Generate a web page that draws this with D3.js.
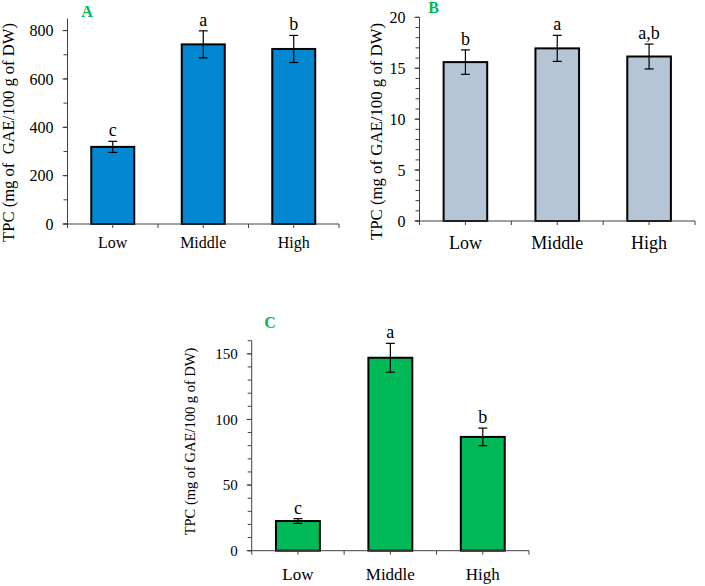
<!DOCTYPE html>
<html>
<head>
<meta charset="utf-8">
<script src="https://cdn.jsdelivr.net/npm/d3@7/dist/d3.min.js"></script>
<style>
  html, body { margin: 0; padding: 0; background: #fff; }
  svg text { font-family: "Liberation Serif", "Times New Roman", serif; fill: #000; }
</style>
</head>
<body>
<svg id="chart" width="705" height="586"></svg>
<script>
// ---- data ----
const categories = ["Low", "Middle", "High"];

const valuesA = [319, 743, 724];
const errorsA = [23, 56, 56];
const lettersA = ["c", "a", "b"];
const ticksA = [0, 200, 400, 600, 800];

const valuesB = [15.6, 16.95, 16.15];
const errorsB = [1.2, 1.28, 1.22];
const lettersB = ["b", "a", "a,b"];
const ticksB = [0, 5, 10, 15, 20];

const valuesC = [22.6, 147, 86.7];
const errorsC = [1.8, 11, 6.7];
const lettersC = ["c", "a", "b"];
const ticksC = [0, 50, 100, 150];

const titleA = "TPC (mg of  GAE/100 g of DW)";
const titleB = "TPC (mg of GAE/100 g of DW)";
const titleC = "TPC (mg of GAE/100 g of DW)";

// ---- panel configs (layout/style only) ----
const panels = [
  { label: "A", values: valuesA, errors: errorsA, letters: lettersA, ticks: ticksA,
    ymax: 850, minorStep: 100, title: titleA,
    x0: 67.5, x1: 339, y0: 224, y1: 18.5, fill: "#0287D0",
    tickFont: 16, catFont: 16, letterFont: 18, titleFont: 16.6, titleX: 14, titleY: 132.5, catY: 248,
    labelX: 87, labelY: 17 },
  { label: "B", values: valuesB, errors: errorsB, letters: lettersB, ticks: ticksB,
    ymax: 20, minorStep: 1, title: titleB,
    x0: 419.5, x1: 695, y0: 221, y1: 17.3, fill: "#B5C5D5",
    tickFont: 16, catFont: 18, letterFont: 18, titleFont: 16.8, titleX: 382, titleY: 131.5, catY: 249,
    labelX: 433.5, labelY: 13 },
  { label: "C", values: valuesC, errors: errorsC, letters: lettersC, ticks: ticksC,
    ymax: 160, minorStep: 10, title: titleC,
    x0: 251.7, x1: 529, y0: 550.7, y1: 340.7, fill: "#00BA5A",
    tickFont: 15, catFont: 17, letterFont: 18, titleFont: 14.5, titleX: 195, titleY: 441.5, catY: 580,
    labelX: 270, labelY: 328 }
];

const svg = d3.select("#chart");
const pad = 0.525;

panels.forEach(p => {
  const g = svg.append("g");
  const x = d3.scaleBand().domain(categories).range([p.x0, p.x1])
    .paddingInner(pad).paddingOuter(pad / 2);
  const y = d3.scaleLinear().domain([0, p.ymax]).range([p.y0, p.y1]);
  const step = x.step();

  // bars
  g.selectAll("rect.bar").data(categories).join("rect")
    .attr("x", d => x(d))
    .attr("y", (d, i) => y(p.values[i]))
    .attr("width", x.bandwidth())
    .attr("height", (d, i) => y(0) - y(p.values[i]))
    .attr("fill", p.fill)
    .attr("stroke", "#000")
    .attr("stroke-width", 2);

  // error bars
  const cx = d => x(d) + x.bandwidth() / 2;
  const eg = g.selectAll("g.err").data(categories).join("g");
  eg.append("line")
    .attr("x1", cx).attr("x2", cx)
    .attr("y1", (d, i) => y(p.values[i] + p.errors[i]))
    .attr("y2", (d, i) => y(p.values[i] - p.errors[i]))
    .attr("stroke", "#000").attr("stroke-width", 1.2);
  [1, -1].forEach(s => {
    eg.append("line")
      .attr("x1", d => cx(d) - 4.5).attr("x2", d => cx(d) + 4.5)
      .attr("y1", (d, i) => y(p.values[i] + s * p.errors[i]))
      .attr("y2", (d, i) => y(p.values[i] + s * p.errors[i]))
      .attr("stroke", "#000").attr("stroke-width", 1.2);
  });

  // significance letters
  g.selectAll("text.letter").data(categories).join("text")
    .attr("x", cx)
    .attr("y", (d, i) => y(p.values[i] + p.errors[i]) - 5)
    .attr("text-anchor", "middle")
    .attr("font-size", p.letterFont)
    .text((d, i) => p.letters[i]);

  // y axis
  const axisColor = "#404040";
  g.append("line")
    .attr("x1", p.x0).attr("x2", p.x0)
    .attr("y1", y(0)).attr("y2", y(p.ymax))
    .attr("stroke", axisColor).attr("stroke-width", 1);
  const minors = d3.range(0, p.ymax + 1e-9, p.minorStep);
  g.selectAll("line.minor").data(minors).join("line")
    .attr("x1", p.x0 - 4).attr("x2", p.x0)
    .attr("y1", d => y(d)).attr("y2", d => y(d))
    .attr("stroke", axisColor).attr("stroke-width", 1);
  g.selectAll("line.major").data(p.ticks).join("line")
    .attr("x1", p.x0 - 5).attr("x2", p.x0)
    .attr("y1", d => y(d)).attr("y2", d => y(d))
    .attr("stroke", axisColor).attr("stroke-width", 1);
  g.selectAll("text.tick").data(p.ticks).join("text")
    .attr("x", p.x0 - 14)
    .attr("y", d => y(d))
    .attr("dy", "0.35em")
    .attr("text-anchor", "end")
    .attr("font-size", p.tickFont)
    .text(d => d);

  // x axis
  g.append("line")
    .attr("x1", p.x0 - 4).attr("x2", p.x1)
    .attr("y1", y(0)).attr("y2", y(0))
    .attr("stroke", axisColor).attr("stroke-width", 1);
  const xticks = [];
  categories.forEach(c => {
    xticks.push(x(c) - step * pad / 2);
    xticks.push(cx(c));
  });
  xticks.push(x(categories[categories.length - 1]) + x.bandwidth() + step * pad / 2);
  g.selectAll("line.xt").data(xticks).join("line")
    .attr("x1", d => d).attr("x2", d => d)
    .attr("y1", y(0)).attr("y2", y(0) + 4)
    .attr("stroke", axisColor).attr("stroke-width", 1);
  g.selectAll("text.cat").data(categories).join("text")
    .attr("x", cx)
    .attr("y", p.catY)
    .attr("text-anchor", "middle")
    .attr("font-size", p.catFont)
    .text(d => d);

  // y title
  g.append("text")
    .attr("transform", `translate(${p.titleX},${p.titleY}) rotate(-90)`)
    .attr("text-anchor", "middle")
    .attr("font-size", p.titleFont)
    .style("white-space", "pre")
    .text(p.title);

  // panel label
  g.append("text")
    .attr("x", p.labelX).attr("y", p.labelY)
    .attr("text-anchor", "middle")
    .attr("font-size", 16)
    .attr("font-weight", "bold")
    .style("fill", "#00B956")
    .text(p.label);
});
</script>
</body>
</html>
